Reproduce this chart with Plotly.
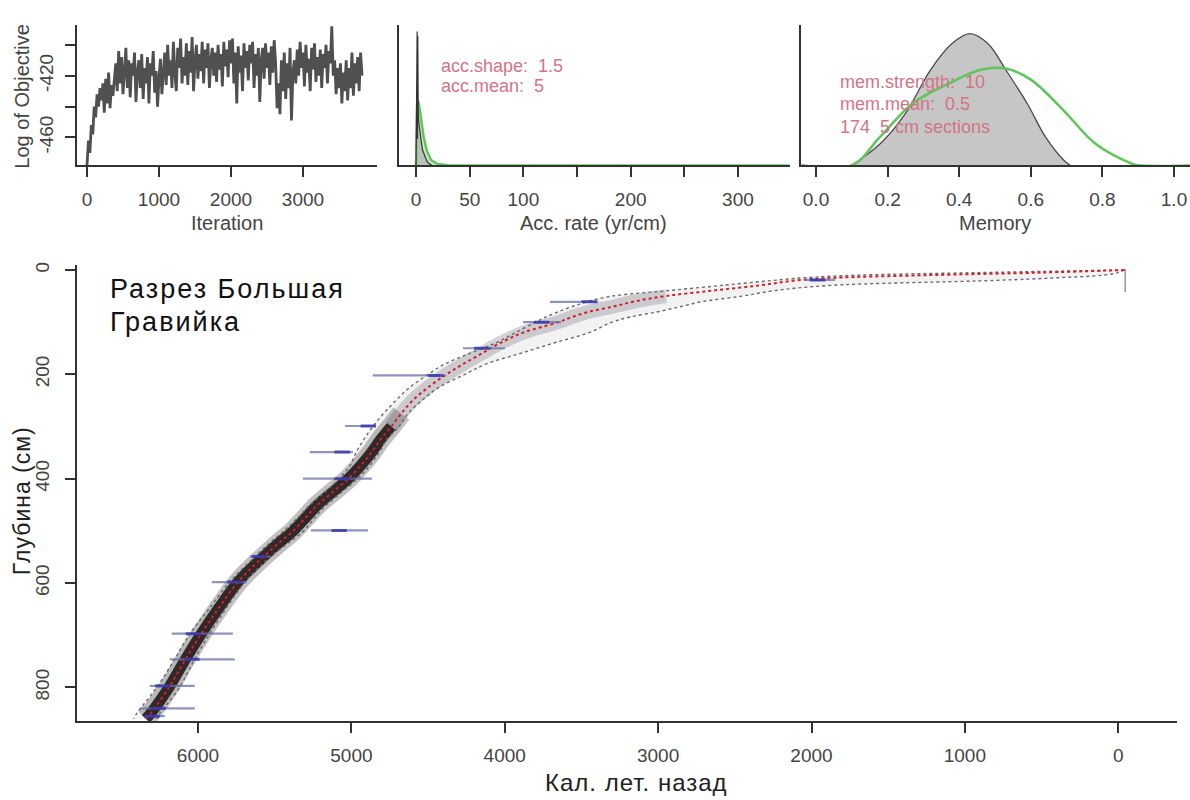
import plotly.graph_objects as go

# ---------------- DATA ----------------
# Panel 1: MCMC log objective trace (every 20 iterations)
iter_step = 20
log_objective = [
    -478, -462, -470, -452, -458, -440, -447, -432, -440, -428,
    -436, -425, -444, -422, -438, -418, -441, -426, -433, -421,
    -412, -430, -404, -425, -408, -432, -415, -402, -428, -410,
    -434, -412, -420, -405, -437, -418, -410, -428, -406, -435,
    -415, -425, -408, -438, -412, -420, -404, -431, -417, -440,
    -422, -409, -432, -418, -405, -426, -400, -420, -410, -428,
    -398, -418, -430, -402, -415, -396, -425, -408, -420, -399,
    -426, -404, -418, -395, -430, -410, -400, -422, -406, -417,
    -398, -425, -403, -415, -399, -428, -410, -402, -420, -405,
    -424, -400, -416, -406, -427, -398, -414, -403, -421, -397,
    -412, -396, -425, -405, -438, -401, -418, -407, -430, -399,
    -415, -404, -423, -400, -412, -398, -428, -406, -420, -402,
    -437, -410, -402, -422, -399, -415, -405, -426, -401, -418,
    -397, -412, -441, -425, -445, -410, -430, -405, -435, -412,
    -428, -402, -449, -418, -410, -425, -403, -420, -398, -415,
    -405, -427, -400, -418, -409, -430, -402, -416, -399, -424,
    -408, -420, -403, -428, -406, -415, -400, -425, -404, -412,
    -388, -420, -410, -432, -415, -428, -412, -438, -418, -430,
    -410, -436, -415, -428, -405, -433, -412, -425, -408, -430,
    -405, -420,
]
iterations = [i * iter_step for i in range(len(log_objective))]

# Panel 2: accumulation rate (yr/cm)
acc_post_x = [0, 1.0, 1.3, 1.6, 2.0, 2.4, 3.0, 4.0, 5.0, 6.0, 8.0, 10.0, 12.0, 15.0]
acc_post_y = [0, 0.30, 0.06, 0.29, 0.12, 0.10, 0.085, 0.065, 0.05, 0.035, 0.02, 0.01, 0.004, 0]
acc_prior_x = [0, 0.5, 1.0, 1.7, 2.5, 3.5, 5, 7, 10, 14, 20, 30, 50, 348]
acc_prior_y = [0, 0.10, 0.135, 0.145, 0.14, 0.125, 0.10, 0.065, 0.033, 0.012, 0.003, 0.0002, 0, 0]

# Panel 3: memory
mem_post_x = [0.10, 0.18, 0.25, 0.32, 0.38, 0.43, 0.48, 0.53, 0.59, 0.64, 0.69, 0.71]
mem_post_y = [0, 0.55, 1.31, 2.41, 3.07, 3.32, 3.07, 2.41, 1.56, 0.73, 0.15, 0]
mem_prior_x = [-0.04, 0.10, 0.18, 0.27, 0.37, 0.46, 0.53, 0.60, 0.69, 0.78, 0.88, 0.90, 1.05]
mem_prior_y = [0, 0, 0.73, 1.56, 2.06, 2.41, 2.44, 2.16, 1.40, 0.55, 0.05, 0, 0]

# Main panel: age-depth model
depth = [0, 5, 10, 15, 20, 30, 40, 50, 60, 70, 80, 90, 100, 120, 140, 160, 180, 200,
         225, 250, 275, 300, 325, 350, 375, 400, 425, 450, 475, 500, 525, 550, 575,
         600, 650, 700, 750, 800, 850, 860]
age_mean = [-40, 500, 1250, 1850, 2100, 2350, 2660, 2950, 3150, 3290, 3450, 3560, 3650,
            3880, 4030, 4150, 4270, 4380, 4500, 4600, 4675, 4740, 4810, 4870, 4940,
            5020, 5120, 5220, 5300, 5380, 5480, 5575, 5665, 5745, 5870, 5985, 6090,
            6190, 6310, 6340]
age_old = [-40, 900, 1700, 2050, 2250, 2600, 2950, 3300, 3450, 3560, 3650, 3730, 3800,
           3930, 4060, 4230, 4390, 4500, 4620, 4710, 4790, 4860, 4920, 4970, 5010,
           5080, 5170, 5270, 5350, 5440, 5540, 5630, 5720, 5800, 5930, 6060, 6160,
           6270, 6400, 6420]
age_young = [-40, 0, 100, 400, 800, 1900, 2250, 2450, 2700, 2850, 3000, 3180, 3300,
             3450, 3680, 3900, 4120, 4260, 4430, 4540, 4630, 4690, 4770, 4820, 4880,
             4960, 5060, 5160, 5240, 5310, 5420, 5530, 5620, 5700, 5820, 5930, 6030,
             6120, 6250, 6270]

# Dated levels: depth (cm), age range (cal BP), most probable age
date_depth = [19, 61, 100, 150, 202, 299, 349, 400, 499, 549, 598, 697, 746, 797, 840, 855]
date_age_lo = [1846, 3390, 3633, 3999, 4423, 4840, 4990, 4866, 4892, 5532, 5682, 5773, 5760, 6021, 6021, 6217]
date_age_hi = [2048, 3705, 3881, 4273, 4860, 5042, 5271, 5316, 5264, 5662, 5910, 6171, 6184, 6315, 6380, 6347]
date_age_peak = [1960, 3450, 3760, 4150, 4450, 4890, 5060, 5060, 5080, 5600, 5760, 6030, 6040, 6230, 6260, 6300]
surface_age = -45
surface_depth = [-2, 42]

main_xticks = [6000, 5000, 4000, 3000, 2000, 1000, 0]
main_yticks = [0, 200, 400, 600, 800]

# ---------------- LAYOUT HELPERS ----------------
W, H = 1190, 800
def fx(px):
    return px / W
def fy(py):
    return 1 - py / H

FONT = "Liberation Sans, Arial, sans-serif"
AX = "#333333"
TXT = "#444444"
PRIOR_TXT = "#d27488"
GREEN = "#62c45c"

fig = go.Figure()

# Panel 1
fig.add_trace(go.Scatter(x=iterations, y=log_objective, mode="lines",
                         line=dict(color="#505050", width=2.8),
                         xaxis="x", yaxis="y", showlegend=False))

# Panel 2
fig.add_trace(go.Scatter(x=acc_prior_x, y=acc_prior_y, mode="lines", fill="tozeroy",
                         fillcolor="rgba(120,210,110,0.40)",
                         line=dict(color=GREEN, width=2.5),
                         xaxis="x2", yaxis="y2", showlegend=False))
fig.add_trace(go.Scatter(x=acc_post_x, y=acc_post_y, mode="lines", fill="tozeroy",
                         fillcolor="rgba(170,170,170,0.6)",
                         line=dict(color="#333333", width=1.2),
                         xaxis="x2", yaxis="y2", showlegend=False))

# Panel 3
fig.add_trace(go.Scatter(x=mem_post_x, y=mem_post_y, mode="lines", fill="tozeroy",
                         fillcolor="#c6c6c6", line=dict(color="#4a4a4a", width=1.3, shape="spline"),
                         xaxis="x3", yaxis="y3", showlegend=False))
fig.add_trace(go.Scatter(x=mem_prior_x, y=mem_prior_y, mode="lines",
                         line=dict(color=GREEN, width=2.6, shape="spline"),
                         xaxis="x3", yaxis="y3", showlegend=False))

# Main panel: 95% envelope (very light grey)
fig.add_trace(go.Scatter(x=age_old + age_young[::-1], y=depth + depth[::-1], mode="lines",
                         fill="toself", fillcolor="rgba(160,160,160,0.14)",
                         line=dict(width=0), xaxis="x4", yaxis="y4", showlegend=False,
                         hoverinfo="skip"))
# grey cloud core
fig.add_trace(go.Scatter(x=age_mean[7:22], y=depth[7:22], mode="lines",
                         line=dict(color="rgba(120,120,135,0.32)", width=14, shape="spline"),
                         xaxis="x4", yaxis="y4", showlegend=False))
fig.add_trace(go.Scatter(x=age_mean[20:], y=depth[20:], mode="lines",
                         line=dict(color="rgba(80,75,75,0.35)", width=20, shape="spline"),
                         xaxis="x4", yaxis="y4", showlegend=False))
fig.add_trace(go.Scatter(x=age_mean[21:], y=depth[21:], mode="lines",
                         line=dict(color="rgba(25,15,15,0.85)", width=11, shape="spline"),
                         xaxis="x4", yaxis="y4", showlegend=False))
# 95% bounds
for arr in (age_old, age_young):
    fig.add_trace(go.Scatter(x=arr, y=depth, mode="lines",
                             line=dict(color="#6a6a6a", width=1.4, dash="dot", shape="spline"),
                             xaxis="x4", yaxis="y4", showlegend=False))
# mean
fig.add_trace(go.Scatter(x=age_mean, y=depth, mode="lines",
                         line=dict(color="#d0202a", width=2, dash="dot", shape="spline"),
                         xaxis="x4", yaxis="y4", showlegend=False))

# dates
dx, dy = [], []
for d, lo, hi in zip(date_depth, date_age_lo, date_age_hi):
    dx += [lo, hi, None]
    dy += [d, d, None]
fig.add_trace(go.Scatter(x=dx, y=dy, mode="lines",
                         line=dict(color="rgba(105,112,165,0.75)", width=2.2),
                         xaxis="x4", yaxis="y4", showlegend=False))
fig.add_trace(go.Scatter(x=date_age_peak, y=date_depth, mode="markers",
                         marker=dict(symbol="line-ew", size=11,
                                     line=dict(color="rgba(50,50,170,0.8)", width=3)),
                         xaxis="x4", yaxis="y4", showlegend=False))
fig.add_trace(go.Scatter(x=[surface_age, surface_age], y=surface_depth, mode="lines",
                         line=dict(color="#888888", width=1.3),
                         xaxis="x4", yaxis="y4", showlegend=False))

# ---------------- AXES ----------------
tickfont = dict(family=FONT, size=19, color=TXT)
common = dict(showgrid=False, zeroline=False, showline=True, linecolor=AX, linewidth=2,
              ticks="outside", ticklen=10, tickwidth=2, tickcolor=AX, tickfont=tickfont)

layout = dict(
    width=W, height=H, margin=dict(l=0, r=0, t=0, b=0),
    paper_bgcolor="white", plot_bgcolor="white",
    font=dict(family=FONT, color=TXT),
    xaxis=dict(common, domain=[fx(77), fx(377)], range=[-139, 4028], anchor="y",
               tickvals=[0, 1000, 2000, 3000], ticklabelstandoff=6),
    yaxis=dict(common, domain=[fy(163), fy(22)], range=[-478.1, -387.1], anchor="x",
               tickvals=[-400, -420, -440, -460], ticktext=["", "-420", "", "-460"],
               tickangle=-90, ticklabelstandoff=4),
    xaxis2=dict(common, domain=[fx(399), fx(790)], range=[-15.9, 348.5], anchor="y2",
                tickvals=[0, 50, 100, 150, 200, 250, 300],
                ticktext=["0", "50", "100", "", "200", "", "300"], ticklabelstandoff=6),
    yaxis2=dict(common, domain=[fy(163), fy(22)], range=[0, 0.315], anchor="x2",
                ticks="", showticklabels=False),
    xaxis3=dict(common, domain=[fx(801), 1.0], range=[-0.0419, 1.0447], anchor="y3",
                tickvals=[0, 0.2, 0.4, 0.6, 0.8, 1.0],
                ticktext=["0.0", "0.2", "0.4", "0.6", "0.8", "1.0"], ticklabelstandoff=6),
    yaxis3=dict(common, domain=[fy(163), fy(22)], range=[0, 3.54], anchor="x3",
                ticks="", showticklabels=False),
    xaxis4=dict(common, domain=[fx(77), fx(1177)], range=[6789, -383], anchor="y4",
                tickvals=main_xticks, ticklabelstandoff=6),
    yaxis4=dict(common, domain=[fy(721), fy(263)], range=[864.8, -9.5], anchor="x4",
                tickvals=main_yticks, tickangle=-90, ticklabelstandoff=8),
)
fig.update_layout(**layout)

ann = []
def add_text(x, y, text, size, color=TXT, xanchor="center", yanchor="middle", angle=0):
    ann.append(dict(x=fx(x), y=fy(y), xref="paper", yref="paper", text=text, showarrow=False,
                    xanchor=xanchor, yanchor=yanchor, textangle=angle,
                    font=dict(family=FONT, size=size, color=color)))

add_text(227, 221, "Iteration", 20)
add_text(22, 94, "Log of Objective", 20, angle=-90)
add_text(593, 221, "Acc. rate (yr/cm)", 20)
add_text(995, 221, "Memory", 20)
add_text(439, 63, "acc.shape:  1.5", 18, PRIOR_TXT, xanchor="left")
add_text(439, 83, "acc.mean:  5", 18, PRIOR_TXT, xanchor="left")
add_text(838, 79, "mem.strength:  10", 18, PRIOR_TXT, xanchor="left")
add_text(838, 101, "mem.mean:  0.5", 18, PRIOR_TXT, xanchor="left")
add_text(838, 124, "174  5 cm sections", 18, PRIOR_TXT, xanchor="left")
add_text(636, 782, '<span style="letter-spacing:1px">Кал. лет. назад</span>', 24, "#222222")
add_text(22, 500, '<span style="letter-spacing:1px">Глубина (см)</span>', 23, "#222222", angle=-90)
add_text(108, 287, '<span style="letter-spacing:2px">Разрез Большая</span>', 27, "#111111", xanchor="left")
add_text(108, 320, '<span style="letter-spacing:2px">Гравийка</span>', 27, "#111111", xanchor="left")
fig.update_layout(annotations=ann)

fig.write_html("out.html")
